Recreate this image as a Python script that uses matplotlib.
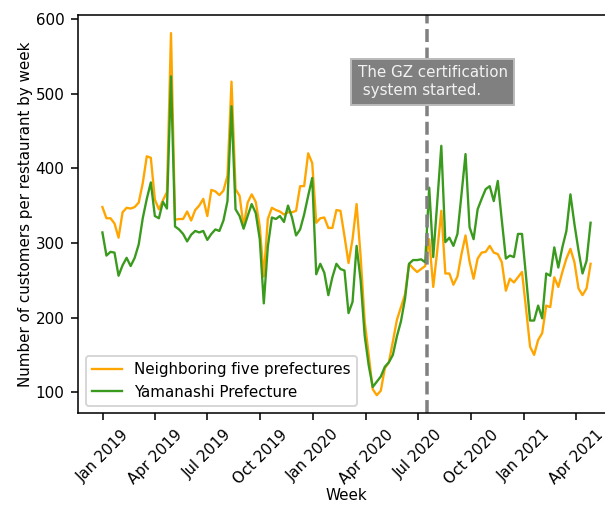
import matplotlib
matplotlib.use("Agg")
import matplotlib.pyplot as plt
import matplotlib.dates as mdates
import pandas as pd

start_date = "2018-12-31"
neighbor = [348, 333, 333, 326, 307, 341, 347, 346, 348, 354,
            380, 416, 414, 358, 345, 357, 368, 581, 331, 332,
            332, 342, 330, 344, 350, 359, 336, 371, 369, 364,
            370, 390, 516, 372, 363, 322, 354, 365, 355, 322,
            255, 332, 347, 344, 342, 338, 341, 341, 343, 376,
            376, 420, 407, 327, 333, 334, 320, 320, 344, 343,
            309, 273, 305, 352, 282, 195, 150, 104, 96, 102,
            132, 140, 168, 197, 214, 231, 272, 266, 261, 265,
            269, 305, 241, 290, 343, 259, 259, 244, 255, 285,
            310, 275, 252, 279, 287, 288, 296, 287, 285, 274,
            236, 252, 247, 254, 261, 212, 161, 150, 170, 179,
            216, 214, 254, 241, 261, 279, 292, 274, 239, 230,
            239, 272]
yamanashi = [314, 283, 288, 287, 256, 270, 280, 269, 280, 298,
             333, 359, 381, 336, 333, 355, 346, 523, 322, 318,
             312, 302, 311, 316, 314, 316, 304, 312, 318, 316,
             330, 356, 483, 345, 336, 319, 336, 352, 340, 305,
             219, 295, 334, 332, 336, 328, 350, 334, 310, 318,
             338, 363, 387, 258, 272, 260, 230, 254, 272, 265,
             263, 206, 221, 296, 250, 176, 136, 107, 114, 121,
             134, 140, 150, 175, 195, 225, 272, 277, 277, 278,
             274, 374, 281, 355, 430, 301, 307, 296, 312, 365,
             419, 321, 305, 345, 359, 372, 376, 356, 383, 330,
             279, 283, 281, 312, 312, 255, 196, 196, 216, 199,
             259, 256, 294, 267, 294, 316, 365, 325, 290, 259,
             276, 327]
event_date = "2020-07-17"
event_text = "The GZ certification\n system started."
label_neighbor = "Neighboring five prefectures"
label_yamanashi = "Yamanashi Prefecture"

plt.rcParams["font.size"] = 7.8

weeks = pd.date_range(start_date, periods=len(neighbor), freq="7D")

dpi = 140
fig = plt.figure(figsize=(605 / dpi, 506 / dpi), dpi=dpi)
ax = fig.add_axes([78 / 605, 1 - 413.3 / 506, (615 - 78) / 605, (413.3 - 15) / 506])

ax.plot(weeks, neighbor, color="orange", lw=1.2, label=label_neighbor)
ax.plot(weeks, yamanashi, color="#3a9a1e", lw=1.2, label=label_yamanashi)
ax.axvline(pd.Timestamp(event_date), color="grey", ls="--", lw=1.8)

ax.text(pd.Timestamp("2020-07-26"), 516, event_text, ha="center", va="center",
        multialignment="left", color="#f2f2f2",
        bbox=dict(facecolor="grey", edgecolor="#bbbbbb", boxstyle="square,pad=0.45"))

ax.xaxis.set_major_locator(mdates.MonthLocator(bymonth=[1, 4, 7, 10]))
ax.xaxis.set_major_formatter(mdates.DateFormatter("%b %Y"))
plt.setp(ax.get_xticklabels(), rotation=45)
ax.set_xlabel("Week", labelpad=0.5)
ax.set_ylabel("Number of customers per restaurant by week", labelpad=1.5)
ax.legend(loc="lower left")

fig.savefig("out.png", dpi=dpi)
